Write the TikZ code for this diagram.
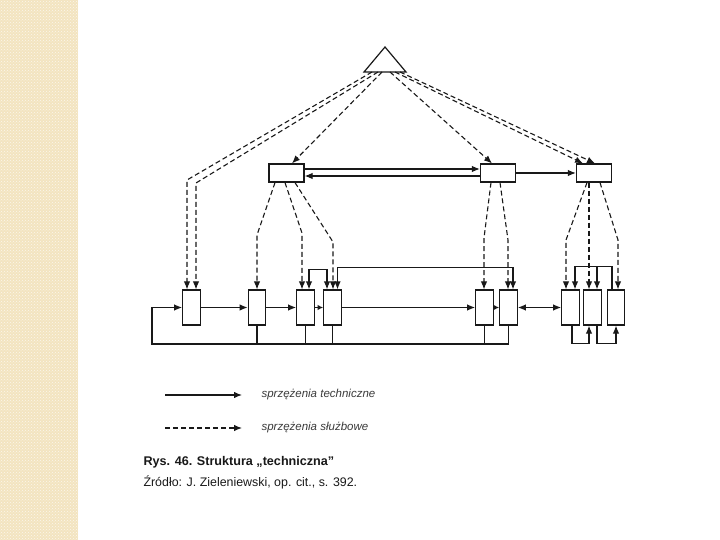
\documentclass[tikz,border=0pt]{standalone}
\usepackage{fontspec}
\setmainfont{Liberation Sans}
\usetikzlibrary{arrows.meta, calc, patterns}

\definecolor{paper}{RGB}{243,228,192}
\definecolor{ink}{RGB}{25,25,25}

\begin{document}
\begin{tikzpicture}[x=1pt, y=-1pt, ink,
  box/.style={rectangle, draw, line width=1.2pt, fill=white, inner sep=0pt},
  wide/.style={box, minimum width=35pt, minimum height=18pt},
  tall/.style={box, minimum width=17.5pt, minimum height=35pt},
  link/.style={line width=1.2pt},
  arrow/.style={link, -{Latex[length=8pt, width=6.5pt]}},
  short/.style={link, -{Latex[length=5.5pt, width=5.5pt]}},
  twoway/.style={link, {Latex[length=8pt, width=6.5pt]}-{Latex[length=8pt, width=6.5pt]}},
  duty/.style={arrow, line width=1.1pt, dash pattern=on 5pt off 3pt},
  legend/.style={anchor=west, font=\itshape\fontsize{11.5}{13}\selectfont, text=ink!85},
  caption/.style={anchor=west, font=\fontsize{12.4}{14}\selectfont}
]
  \useasboundingbox (0,0) rectangle (720,540);
  \fill[white] (0,0) rectangle (720,540);
  \fill[paper] (0,0) rectangle (78,540);
  \fill[pattern=crosshatch dots, pattern color=white!70!paper] (0,0) rectangle (78,540);

  \draw[link, fill=white] (385,47) -- (406,72) -- (364,72) -- cycle;
  \node[coordinate] (peak) at (385,72) {};

  \node[wide] (tA) at (286.5,173) {};
  \node[wide] (tB) at (498,173) {};
  \node[wide] (tC) at (594,173) {};

  \foreach \n/\x in {1/191.5, 2/257, 3/305.5, 4/332.5, 5/484.5, 6/508.5, 7/570.5, 8/592.5, 9/616}
    \node[tall] (b\n) at (\x,307.5) {};

  \draw[duty] ([xshift=-13pt]peak) -- (187,180) -- ([xshift=-4.5pt]b1.north);
  \draw[duty] ([xshift=-7pt]peak) -- (196,183) -- ([xshift=4.5pt]b1.north);
  \draw[duty] ([xshift=-3pt]peak) -- ([xshift=5.5pt]tA.north);
  \draw[duty] ([xshift=5pt]peak) -- ([xshift=-6pt]tB.north);
  \draw[duty] ([xshift=10pt]peak) -- ([xshift=-11pt]tC.north);
  \draw[duty] ([xshift=15pt]peak) -- ([xshift=1pt]tC.north);

  \draw[arrow] ([yshift=4pt]tA.east) -- ([yshift=4pt]tB.west);
  \draw[arrow] ([yshift=-3pt]tB.west) -- ([yshift=-3pt]tA.east);
  \draw[arrow] (tB) -- (tC);

  \draw[duty] ([xshift=-11.5pt]tA.south) -- (257,235) -- (b2.north);
  \draw[duty] ([xshift=-1.5pt]tA.south) -- (302,233) -- ([xshift=-3.5pt]b3.north);
  \draw[duty] ([xshift=8.5pt]tA.south) -- (333,242) -- ([xshift=0.5pt]b4.north);
  \draw[duty] ([xshift=-7pt]tB.south) -- (484,238) -- ([xshift=-0.5pt]b5.north);
  \draw[duty] ([xshift=2pt]tB.south) -- (508,240) -- ([xshift=-0.5pt]b6.north);
  \draw[duty] ([xshift=-7pt]tC.south) -- (566,240) -- ([xshift=-4.5pt]b7.north);
  \draw[duty] ([xshift=-5pt]tC.south) -- ([xshift=-3.5pt]b8.north);
  \draw[duty] ([xshift=6pt]tC.south) -- (618,240) -- ([xshift=2pt]b9.north);

  \draw[twoway] ([xshift=3.5pt]b3.north) -- ++(0,-20) -| ([xshift=-5.5pt]b4.north);
  \draw[twoway] ([xshift=5pt]b4.north) -- ++(0,-22) -| ([xshift=4.5pt]b6.north);
  \draw[arrow] ([xshift=-4pt]b9.north) -- ++(0,-23) coordinate (rj) -| ([xshift=4.5pt]b7.north);
  \path ([xshift=4.5pt]b8.north) coordinate (b8in);
  \draw[arrow] (b8in |- rj) -- (b8in);

  \coordinate (fb) at (152,344);
  \draw[arrow] (b6.south) |- (fb) |- (b1.west);
  \foreach \n in {2,...,5}
    \draw[link] (b\n.south) -- (b\n.south |- fb);
  \draw[arrow] (b1) -- (b2);
  \draw[arrow] (b2) -- (b3);
  \draw[short] (b3) -- (b4);
  \draw[arrow] (b4) -- (b5);
  \draw[short] (b5) -- (b6);
  \draw[twoway] (b6) -- (b7);
  \draw[arrow] ([xshift=1.5pt]b7.south) -- ++(0,18) -| ([xshift=-3.5pt]b8.south);
  \draw[arrow] ([xshift=4.5pt]b8.south) -- ++(0,18) -| (b9.south);

  \node[coordinate] (tech0) at (165,395) {};
  \node[coordinate] (tech1) at (242,395) {};
  \node[coordinate] (duty0) at (165,428) {};
  \node[coordinate] (duty1) at (242,428) {};
  \draw[arrow] (tech0) -- (tech1);
  \draw[duty] (duty0) -- (duty1);
  \node[legend] (techtext) at (258,395) {sprzężenia techniczne};
  \node[legend] (dutytext) at (258,428) {sprzężenia służbowe};

  \node[caption, font=\bfseries\fontsize{12.6}{14}\selectfont] (title) at (140,462) {Rys. 46. Struktura „techniczna”};
  \node[caption] (source) at (140,482) {Źródło: J. Zieleniewski, op. cit., s. 392.};
\end{tikzpicture}
\end{document}
